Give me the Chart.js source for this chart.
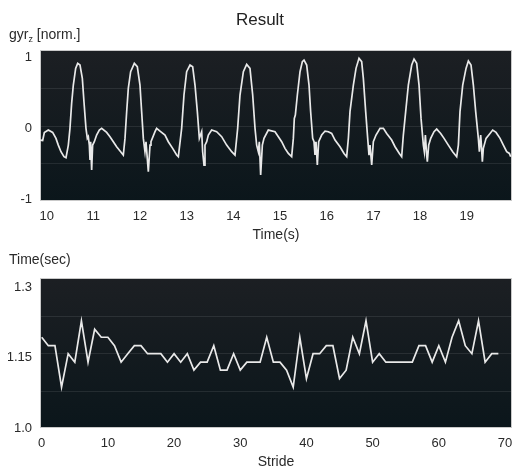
<!DOCTYPE html>
<html>
<head>
<meta charset="utf-8">
<script src="https://cdn.jsdelivr.net/npm/chart.js@4/dist/chart.umd.min.js"></script>
<style>
  html, body { margin: 0; padding: 0; background: #ffffff; }
  body { width: 515px; height: 471px; position: relative; overflow: hidden; font-family: "Liberation Sans", Arial, sans-serif; }
  .ylab { position: absolute; left: 9px; font-size: 14px; line-height: 16px; color: #2a2a2a; white-space: nowrap; }
  .ylab sub { font-size: 9px; line-height: 0; vertical-align: -3px; }
  #c1 { position: absolute; left: 0; top: 0; }
  #c2 { position: absolute; left: 0; top: 245px; }
</style>
</head>
<body>
<canvas id="c1" width="515" height="245"></canvas>
<canvas id="c2" width="515" height="226"></canvas>
<div class="ylab" style="top:26px">gyr<sub>z</sub> [norm.]</div>
<div class="ylab" style="top:251px">Time(sec)</div>
<script>
// ---------- data ----------
const gyrTime = [9.856,9.914,9.95,10.035,10.128,10.199,10.249,10.306,10.371,10.414,10.464,10.499,10.535,10.571,10.621,10.664,10.714,10.764,10.799,10.842,10.871,10.892,10.914,10.928,10.942,10.964,10.985,11.021,11.07,11.128,11.178,11.285,11.356,11.428,11.499,11.585,11.642,11.678,11.714,11.749,11.799,11.878,11.942,11.999,12.035,12.071,12.106,12.128,12.178,12.214,12.235,12.321,12.356,12.428,12.535,12.606,12.699,12.785,12.821,12.892,12.942,12.999,13.071,13.128,13.178,13.228,13.271,13.321,13.342,13.371,13.392,13.428,13.464,13.535,13.642,13.749,13.856,13.964,14.035,14.092,14.142,14.214,14.285,14.356,14.414,14.464,14.499,14.535,14.556,14.585,14.621,14.656,14.749,14.892,14.964,15.035,15.106,15.178,15.249,15.285,15.306,15.328,15.371,15.428,15.478,15.514,15.571,15.621,15.656,15.699,15.728,15.749,15.771,15.799,15.828,15.892,15.964,16.035,16.106,16.178,16.285,16.371,16.428,16.464,16.499,16.571,16.628,16.692,16.749,16.785,16.835,16.878,16.906,16.928,16.964,16.999,17.056,17.142,17.214,17.285,17.392,17.464,17.556,17.606,17.642,17.692,17.749,17.821,17.871,17.928,17.978,18.021,18.071,18.092,18.114,18.142,18.156,18.185,18.228,18.299,18.356,18.442,18.514,18.606,18.699,18.785,18.821,18.856,18.914,18.985,19.035,19.092,19.142,19.192,19.249,19.271,19.299,19.314,19.335,19.356,19.414,19.499,19.556,19.628,19.714,19.785,19.856,19.914,19.942];
const gyrValue = [-0.164,-0.17,-0.06,-0.024,-0.057,-0.141,-0.235,-0.328,-0.398,-0.412,-0.235,0.0,0.351,0.608,0.842,0.912,0.889,0.702,0.374,0.0,-0.141,-0.117,-0.235,-0.445,-0.188,-0.586,-0.235,-0.188,-0.094,-0.024,0.0,-0.057,-0.117,-0.188,-0.258,-0.328,-0.375,-0.141,0.234,0.561,0.795,0.912,0.866,0.608,0.234,-0.141,-0.328,-0.188,-0.609,-0.235,-0.188,-0.047,0.0,-0.038,-0.094,-0.188,-0.281,-0.375,-0.398,0.0,0.468,0.795,0.889,0.866,0.608,0.234,-0.141,-0.047,-0.328,-0.515,-0.235,-0.188,-0.094,-0.024,-0.047,-0.117,-0.235,-0.328,-0.375,0.0,0.468,0.795,0.898,0.842,0.468,0.0,-0.235,-0.328,-0.188,-0.656,-0.235,-0.141,-0.024,-0.047,-0.117,-0.188,-0.281,-0.352,-0.398,-0.141,0.14,0.187,0.468,0.795,0.936,0.959,0.889,0.608,0.234,-0.141,-0.188,-0.375,-0.188,-0.515,-0.188,-0.094,-0.038,-0.047,-0.071,-0.164,-0.258,-0.352,-0.398,-0.141,0.234,0.608,0.842,0.983,0.936,0.702,0.234,-0.141,-0.375,-0.235,-0.515,-0.188,-0.094,0.0,0.0,-0.071,-0.164,-0.258,-0.352,-0.398,-0.094,0.234,0.608,0.889,0.973,0.912,0.608,0.14,-0.235,-0.328,-0.094,-0.375,-0.469,-0.235,-0.141,-0.047,-0.01,-0.071,-0.141,-0.235,-0.328,-0.398,-0.235,0.234,0.608,0.842,0.945,0.889,0.608,0.234,-0.141,-0.328,-0.094,-0.235,-0.469,-0.281,-0.141,-0.071,-0.024,-0.057,-0.141,-0.235,-0.328,-0.352,-0.398];
const timeTicks = [10, 11, 12, 13, 14, 15, 16, 17, 18, 19];
const gyrTicks = [-1, 0, 1];

const strideTime = [1.193,1.175,1.175,1.087,1.158,1.140,1.228,1.140,1.210,1.193,1.193,1.175,1.140,1.158,1.175,1.175,1.158,1.158,1.158,1.140,1.158,1.140,1.158,1.123,1.140,1.140,1.175,1.123,1.123,1.158,1.123,1.140,1.140,1.140,1.193,1.140,1.140,1.123,1.087,1.193,1.105,1.158,1.158,1.175,1.175,1.105,1.123,1.193,1.158,1.228,1.140,1.158,1.140,1.140,1.140,1.140,1.140,1.175,1.175,1.140,1.175,1.140,1.193,1.228,1.175,1.158,1.228,1.140,1.158,1.158];
const strideTicks = [0, 10, 20, 30, 40, 50, 60, 70];
const strideYTicks = [1.0, 1.15, 1.3];
const strideYLabels = ['1.0', '1.15', '1.3'];

// ---------- styling ----------
const FONT = '"Liberation Sans", Arial, sans-serif';
const TXT = '#2a2a2a';

const plotBg = {
  id: 'plotBg',
  beforeDatasetsDraw(chart) {
    const {ctx, chartArea: a} = chart;
    ctx.save();
    const g = ctx.createLinearGradient(0, a.top, 0, a.bottom);
    g.addColorStop(0, '#1c1f23');
    g.addColorStop(1, '#0b161b');
    ctx.fillStyle = g;
    ctx.fillRect(a.left, a.top, a.right - a.left, a.bottom - a.top);
    ctx.strokeStyle = 'rgba(255,255,255,0.09)';
    ctx.lineWidth = 1;
    for (let k = 1; k < 4; k++) {
      const y = Math.round(a.top + (a.bottom - a.top) * k / 4) + 0.5;
      ctx.beginPath(); ctx.moveTo(a.left, y); ctx.lineTo(a.right, y); ctx.stroke();
    }
    ctx.strokeStyle = '#c9c9c9';
    ctx.strokeRect(a.left + 0.5, a.top + 0.5, a.right - a.left - 1, a.bottom - a.top - 1);
    ctx.restore();
  }
};

const tickFont = {family: FONT, size: 13};

function yAxis(min, max, values, labels) {
  return {
    type: 'linear', min, max,
    afterBuildTicks: ax => { ax.ticks = values.map(v => ({value: v})); },
    afterFit: ax => { ax.width = 32; },
    grid: {display: false, drawTicks: false},
    border: {display: false},
    ticks: {
      font: tickFont, color: TXT, padding: 8,
      callback: (v) => labels ? labels[values.indexOf(v)] : String(v)
    }
  };
}

function xAxis(min, max, values, title, h, titlePadBottom) {
  return {
    type: 'linear', min, max,
    afterBuildTicks: ax => { ax.ticks = values.map(v => ({value: v})); },
    afterFit: ax => { ax.height = h; ax.paddingLeft = 0; ax.paddingRight = 0; },
    grid: {display: false, drawTicks: false},
    border: {display: false},
    ticks: {font: tickFont, color: TXT, padding: 8, maxRotation: 0, autoSkip: false, callback: v => String(v)},
    title: {display: true, text: title, color: TXT, font: {family: FONT, size: 14}, padding: {top: 0, bottom: titlePadBottom}}
  };
}

const lineStyle = {borderColor: '#e9e9e9', borderWidth: 1.7, pointRadius: 0, tension: 0, fill: false};

new Chart(document.getElementById('c1'), {
  type: 'line',
  data: {datasets: [Object.assign({data: gyrTime.map((t, i) => ({x: t, y: gyrValue[i]}))}, lineStyle)]},
  options: {
    responsive: false, animation: false, devicePixelRatio: 1,
    layout: {padding: {left: 8, right: 3, top: 0, bottom: 0}},
    plugins: {
      legend: {display: false}, tooltip: {enabled: false},
      title: {display: true, text: 'Result', color: '#222', font: {family: FONT, size: 17, weight: 'normal'}, padding: {top: 10, bottom: 19.6}}
    },
    scales: {
      x: xAxis(9.857, 19.97, timeTicks, 'Time(s)', 44, 1.6),
      y: yAxis(-1.02, 1.1, gyrTicks, null)
    }
  },
  plugins: [plotBg]
});

new Chart(document.getElementById('c2'), {
  type: 'line',
  data: {datasets: [Object.assign({data: strideTime.map((v, i) => ({x: i, y: v}))}, lineStyle)]},
  options: {
    responsive: false, animation: false, devicePixelRatio: 1,
    layout: {padding: {left: 8, right: 3, top: 33, bottom: 0}},
    plugins: {legend: {display: false}, tooltip: {enabled: false}, title: {display: false}},
    scales: {
      x: xAxis(-0.257, 71.06, strideTicks, 'Stride', 43, 0),
      y: yAxis(1.0, 1.319, strideYTicks, strideYLabels)
    }
  },
  plugins: [plotBg]
});
</script>
</body>
</html>
